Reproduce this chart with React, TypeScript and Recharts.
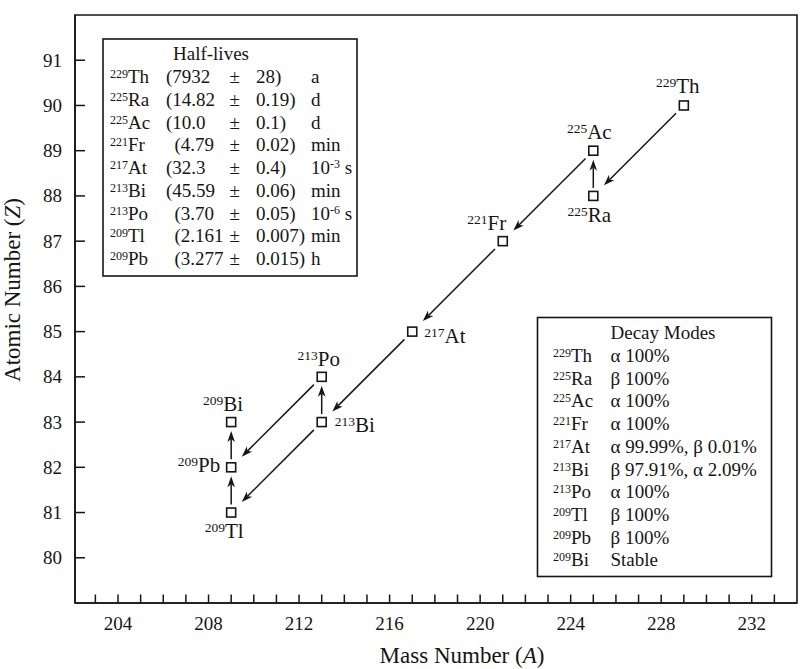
import React from 'react'
import {
  Customized,
  ReferenceArea,
  ReferenceLine,
  Scatter,
  ScatterChart,
  XAxis,
  YAxis
} from 'recharts'

const FONT = '"Liberation Serif", "Times New Roman", serif'
const INK = '#161616'

// nuclides of the 229Th decay chain
const elements = ['Th', 'Ra', 'Ac', 'Fr', 'At', 'Bi', 'Po', 'Tl', 'Pb', 'Bi']
const massNumbers = [229, 225, 225, 221, 217, 213, 213, 209, 209, 209]
const atomicNumbers = [90, 88, 89, 87, 85, 83, 84, 81, 82, 83]

// decay arrows (parent -> daughter)
const decayFrom = ['229Th', '225Ra', '225Ac', '221Fr', '217At', '213Bi', '213Po', '213Bi', '209Tl', '209Pb']
const decayTo = ['225Ra', '225Ac', '221Fr', '217At', '213Bi', '213Po', '209Pb', '209Tl', '209Pb', '209Bi']

const xTicks = [203, 204, 205, 206, 207, 208, 209, 210, 211, 212, 213, 214, 215, 216, 217, 218, 219, 220, 221, 222, 223, 224, 225, 226, 227, 228, 229, 230, 231, 232, 233]
const xTickLabels = [204, 208, 212, 216, 220, 224, 228, 232]
const yTicks = [80, 81, 82, 83, 84, 85, 86, 87, 88, 89, 90, 91]

// half-lives table
const halfLifeNuclides = ['229Th', '225Ra', '225Ac', '221Fr', '217At', '213Bi', '213Po', '209Tl', '209Pb']
const halfLifeValues = ['7932', '14.82', '10.0', '4.79', '32.3', '45.59', '3.70', '2.161', '3.277']
const halfLifeErrors = ['28', '0.19', '0.1', '0.02', '0.4', '0.06', '0.05', '0.007', '0.015']
const halfLifeUnits = ['a', 'd', 'd', 'min', '10^-3 s', 'min', '10^-6 s', 'min', 'h']

// decay modes table
const modeNuclides = ['229Th', '225Ra', '225Ac', '221Fr', '217At', '213Bi', '213Po', '209Tl', '209Pb', '209Bi']
const modes = ['α 100%', 'β 100%', 'α 100%', 'α 100%', 'α 99.99%, β 0.01%', 'β 97.91%, α 2.09%', 'α 100%', 'β 100%', 'β 100%', 'Stable']

const points = elements.map((el, i) => ({
  name: `${massNumbers[i]}${el}`,
  el,
  mass: massNumbers[i],
  a: massNumbers[i],
  z: atomicNumbers[i]
}))
const byName = (n: string) => points.find((p) => p.name === n)!

// where each point label sits relative to its marker
const labelSpot: Record<string, { dx: number; dy: number; anchor: 'start' | 'middle' | 'end' }> = {
  '229Th': { dx: -6, dy: -12, anchor: 'middle' },
  '225Ac': { dx: -4, dy: -12, anchor: 'middle' },
  '225Ra': { dx: -4, dy: 26, anchor: 'middle' },
  '221Fr': { dx: -16, dy: -11, anchor: 'middle' },
  '217At': { dx: 12, dy: 11, anchor: 'start' },
  '213Po': { dx: -3, dy: -11, anchor: 'middle' },
  '213Bi': { dx: 13, dy: 10, anchor: 'start' },
  '209Bi': { dx: -8, dy: -11, anchor: 'middle' },
  '209Pb': { dx: -11, dy: 5, anchor: 'end' },
  '209Tl': { dx: -7, dy: 25, anchor: 'middle' }
}

const Iso = ({ mass, el, sup, dy }: { mass: number | string; el: string; sup: number; dy: number }) => (
  <>
    <tspan fontSize={sup} dy={-dy}>{mass}</tspan>
    <tspan dy={dy}>{el}</tspan>
  </>
)

const splitName = (n: string) => ({ mass: n.slice(0, 3), el: n.slice(3) })

const NuclideMark = (p: any) => {
  const { cx, cy, payload } = p
  const s = labelSpot[payload.name]
  return (
    <g>
      <rect x={cx - 4.5} y={cy - 4.5} width={9} height={9} fill="#fff" stroke={INK} strokeWidth={1.6} />
      <text x={cx + s.dx} y={cy + s.dy} textAnchor={s.anchor} fontFamily={FONT} fontSize={21} fill={INK}>
        <Iso mass={payload.mass} el={payload.el} sup={13.5} dy={6} />
      </text>
    </g>
  )
}

const arrowShape = (gapStart: number, gapEnd: number) => (p: any) => {
  const x1 = Number(p.x1), y1 = Number(p.y1), x2 = Number(p.x2), y2 = Number(p.y2)
  const len = Math.hypot(x2 - x1, y2 - y1)
  const ux = (x2 - x1) / len, uy = (y2 - y1) / len
  const nx = -uy, ny = ux
  const sx = x1 + ux * gapStart, sy = y1 + uy * gapStart
  const tx = x2 - ux * gapEnd, ty = y2 - uy * gapEnd
  const hl = 11, hw = 3.8
  const bx = tx - ux * hl, by = ty - uy * hl
  const mx = tx - ux * hl * 0.72, my = ty - uy * hl * 0.72
  return (
    <g>
      <line x1={sx} y1={sy} x2={mx} y2={my} stroke={INK} strokeWidth={1.5} />
      <polygon
        points={`${tx},${ty} ${bx + nx * hw},${by + ny * hw} ${mx},${my} ${bx - nx * hw},${by - ny * hw}`}
        fill={INK}
      />
    </g>
  )
}

const XTick = (p: any) => {
  const { x, y, payload } = p
  return (
    <g>
      <line x1={x} y1={y} x2={x} y2={y - 8.5} stroke={INK} strokeWidth={1.5} />
      {xTickLabels.includes(payload.value) && (
        <text x={x} y={y + 27} textAnchor="middle" fontFamily={FONT} fontSize={19} fill={INK}>
          {payload.value}
        </text>
      )}
    </g>
  )
}

const YTick = (p: any) => {
  const { x, y, payload } = p
  return (
    <g>
      <line x1={x} y1={y} x2={x + 10} y2={y} stroke={INK} strokeWidth={1.5} />
      <text x={x - 13} y={y + 6.5} textAnchor="end" fontFamily={FONT} fontSize={19} fill={INK}>
        {payload.value}
      </text>
    </g>
  )
}

const Unit = ({ u }: { u: string }) => {
  if (!u.includes('^')) return <>{u}</>
  const [base, rest] = u.split('^')
  const [exp, tail] = rest.split(' ')
  return (
    <>
      {base}
      <tspan fontSize={12} dy={-6}>{exp}</tspan>
      <tspan dy={6}>{' ' + tail}</tspan>
    </>
  )
}

const Tables = () => {
  const row = 22.7
  const t = { fontFamily: FONT, fontSize: 19, fill: INK }
  return (
    <g>
      {/* half-lives */}
      <rect x={103} y={39} width={254} height={237} fill="#fff" stroke={INK} strokeWidth={1.6} />
      <text x={211} y={60} textAnchor="middle" {...t}>Half-lives</text>
      {halfLifeNuclides.map((n, i) => {
        const y = 83.3 + i * row
        const { mass, el } = splitName(n)
        // single-digit values sit one digit further right
        const indent = halfLifeValues[i].split('.')[0].length === 1 ? 8.5 : 0
        return (
          <g key={n}>
            <text x={110} y={y} {...t}><Iso mass={mass} el={el} sup={12} dy={5} /></text>
            <text x={166 + indent} y={y} {...t}>({halfLifeValues[i]}</text>
            <text x={229.5} y={y} {...t}>±</text>
            <text x={256} y={y} {...t}>{halfLifeErrors[i]})</text>
            <text x={311} y={y} {...t}><Unit u={halfLifeUnits[i]} /></text>
          </g>
        )
      })}
      {/* decay modes */}
      <rect x={537.5} y={317.5} width={234} height={259} fill="#fff" stroke={INK} strokeWidth={1.6} />
      <text x={663} y={339} textAnchor="middle" {...t}>Decay Modes</text>
      {modeNuclides.map((n, i) => {
        const y = 362 + i * row
        const { mass, el } = splitName(n)
        return (
          <g key={n + i}>
            <text x={553} y={y} {...t}><Iso mass={mass} el={el} sup={12} dy={5} /></text>
            <text x={610.5} y={y} {...t}>{modes[i]}</text>
          </g>
        )
      })}
      {/* axis titles */}
      <text x={462} y={663} textAnchor="middle" fontFamily={FONT} fontSize={23} fill={INK}>
        Mass Number (<tspan fontStyle="italic">A</tspan>)
      </text>
      <text
        x={0}
        y={0}
        transform="translate(20,290) rotate(-90)"
        textAnchor="middle"
        fontFamily={FONT}
        fontSize={23}
        fill={INK}
      >
        Atomic Number (<tspan fontStyle="italic">Z</tspan>)
      </text>
    </g>
  )
}

export default function App() {
  return (
    <div style={{ position: 'absolute', left: 0, top: 0, background: '#fff' }}>
      <ScatterChart width={800} height={669} margin={{ top: 15, right: 3, bottom: 0, left: 0 }}>
        <XAxis
          type="number"
          dataKey="a"
          domain={[202.1, 234]}
          ticks={xTicks}
          interval={0}
          allowDataOverflow
          height={66}
          tickSize={0}
          tickMargin={0}
          tickLine={false}
          tick={XTick}
          axisLine={{ stroke: INK, strokeWidth: 1.6 }}
        />
        <YAxis
          type="number"
          dataKey="z"
          domain={[79, 92]}
          ticks={yTicks}
          interval={0}
          allowDataOverflow
          width={75}
          tickSize={0}
          tickMargin={0}
          tickLine={false}
          tick={YTick}
          axisLine={{ stroke: INK, strokeWidth: 1.6 }}
        />
        <ReferenceArea x1={202.1} x2={234} y1={79} y2={92} fill="none" fillOpacity={0} stroke={INK} strokeWidth={1.6} ifOverflow="visible" />
        {decayFrom.map((f, i) => {
          const a = byName(f)
          const b = byName(decayTo[i])
          const beta = a.a === b.a
          return (
            <ReferenceLine
              key={f + decayTo[i]}
              segment={[{ x: a.a, y: a.z }, { x: b.a, y: b.z }]}
              ifOverflow="visible"
              shape={beta ? arrowShape(8, 9) : arrowShape(11, 15)}
            />
          )
        })}
        <Scatter data={points} isAnimationActive={false} shape={NuclideMark} />
        <Customized component={Tables} />
      </ScatterChart>
    </div>
  )
}
